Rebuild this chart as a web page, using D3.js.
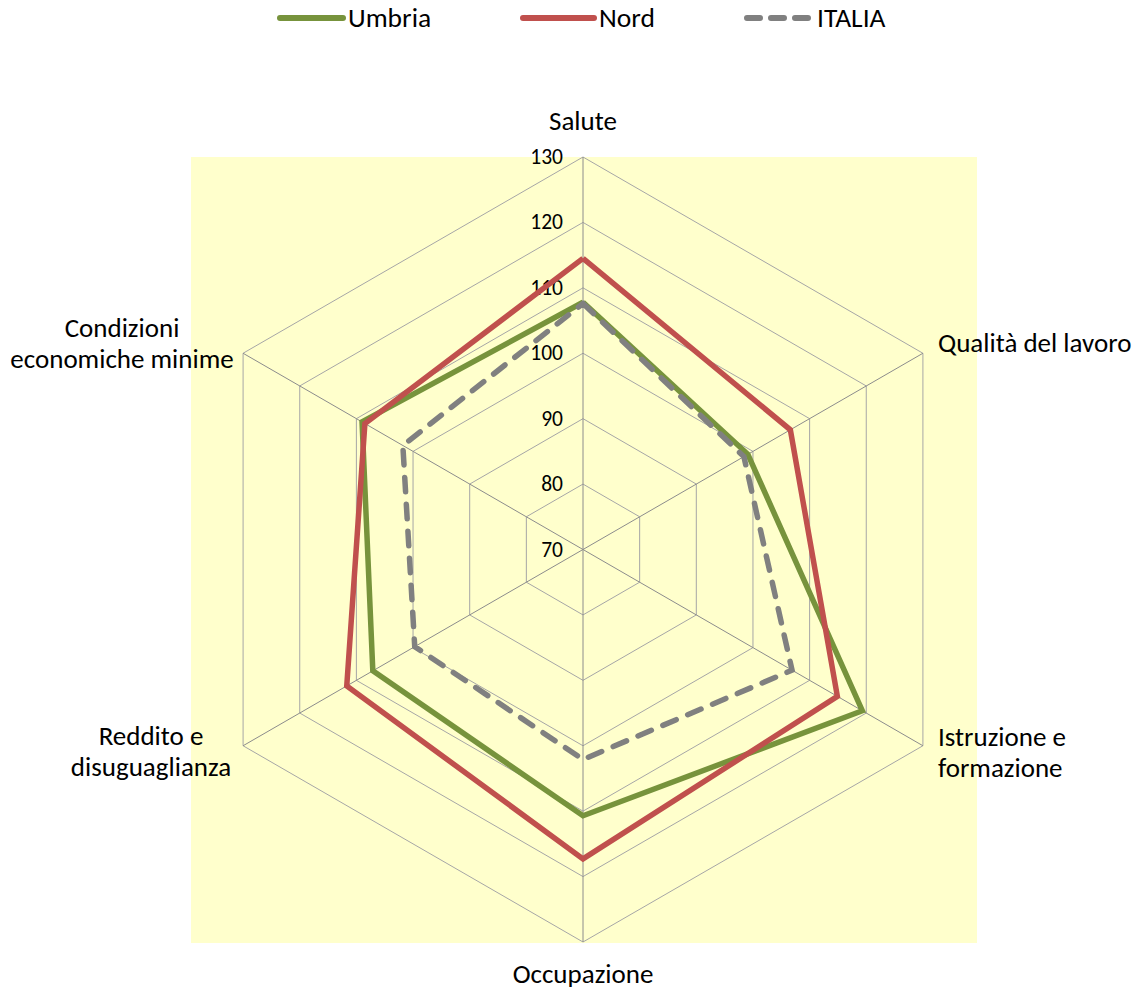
<!DOCTYPE html>
<html><head><meta charset="utf-8">
<script src="https://cdn.jsdelivr.net/npm/d3@7"></script>
<style>body{margin:0;background:#fff}svg{display:block}text{font-family:Carlito,Calibri,Lato,"Open Sans",sans-serif;fill:#000}</style>
</head><body><svg id="c" width="1139" height="991"></svg>
<script>
const categories = ["Salute","Qualità del lavoro","Istruzione e formazione","Occupazione","Reddito e disuguaglianza","Condizioni economiche minime"];
const umbria = [107.8, 99.1, 119.3, 110.7, 107.1, 109.0];
const nord   = [114.5, 106.6, 114.9, 117.3, 111.7, 108.5];
const italia = [107.6, 98.4, 106.9, 102.1, 99.7, 101.8];
const ticks = [70,80,90,100,110,120,130];
const seriesNames = ["Umbria","Nord","ITALIA"];

const svg = d3.select("#c");
const cx = 583, cy = 549.5, R = 392.5;
const r = d3.scaleLinear().domain([70,130]).range([0,R]);
const ang = d3.scaleLinear().domain([0,categories.length]).range([0,2*Math.PI]);
const pt = (i,v)=>[cx + r(v)*Math.sin(ang(i)), cy - r(v)*Math.cos(ang(i))];

svg.append("rect").attr("x",191).attr("y",157).attr("width",786).attr("height",786).attr("fill","#FFFFCC");

// grid
ticks.slice(1).forEach(t=>{
  svg.append("path").attr("d", d3.line()(categories.map((c,i)=>pt(i,t)).concat([pt(0,t)])))
    .attr("fill","none").attr("stroke","#A6A6A6").attr("stroke-width",1);
});
categories.forEach((c,i)=>{
  const [x,y]=pt(i,130);
  svg.append("line").attr("x1",cx).attr("y1",cy).attr("x2",x).attr("y2",y).attr("stroke","#8C8C8C").attr("stroke-width",1);
});
// tick labels
ticks.forEach(t=>{
  svg.append("text").attr("x",563).attr("y",cy - r(t)+7).attr("text-anchor","end").attr("font-size",21.5).text(t);
});

const line = d3.line();
function drawSeries(vals,color,dash){
  const p = line(vals.map((v,i)=>pt(i,v)).concat([pt(0,vals[0])]));
  const el = svg.append("path").attr("d",p).attr("fill","none").attr("stroke",color).attr("stroke-width",5.5).attr("stroke-linejoin","miter").attr("stroke-linecap", dash?"round":"butt");
  if(dash) el.attr("stroke-dasharray","14.5,12.5");
}
drawSeries(umbria,"#77933C",false);
drawSeries(nord,"#C0504D",false);
drawSeries(italia,"#808080",true);

// category labels
const lbl = [
  {lines:["Salute"],x:583,y:130,a:"middle"},
  {lines:["Qualità del lavoro"],x:938,y:352,a:"start"},
  {lines:["Istruzione e","formazione"],x:938,y:746,a:"start"},
  {lines:["Occupazione"],x:583,y:983,a:"middle"},
  {lines:["Reddito e","disuguaglianza"],x:151,y:745,a:"middle"},
  {lines:["Condizioni","economiche minime"],x:122,y:337,a:"middle"}
];
lbl.forEach((l,k)=>{
  const t = svg.append("text").attr("text-anchor",l.a).attr("font-size",27);
  l.lines.forEach((s,j)=>t.append("tspan").attr("x",l.x).attr("y",l.y+j*30.5).text(s));
});

// legend
const leg = [{x1:280,x2:343,c:"#77933C",d:false},{x1:523,x2:594,c:"#C0504D",d:false},{x1:747,x2:812,c:"#808080",d:true}];
leg.forEach((g,i)=>{
  const l = svg.append("line").attr("x1",g.x1).attr("y1",18).attr("x2",g.x2).attr("y2",18).attr("stroke",g.c).attr("stroke-width",6).attr("stroke-linecap","round");
  if(g.d) l.attr("stroke-dasharray","13,11");
  svg.append("text").attr("x",g.x2+5).attr("y",27).attr("font-size",27.5).text(seriesNames[i]);
});
</script></body></html>
